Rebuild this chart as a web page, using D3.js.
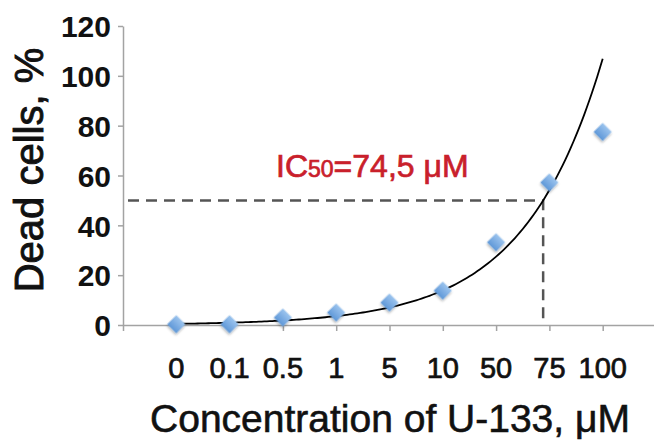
<!DOCTYPE html>
<html>
<head>
<meta charset="utf-8">
<script src="https://cdn.jsdelivr.net/npm/d3@7/dist/d3.min.js"></script>
<style>
  html, body { margin: 0; padding: 0; background: #fff; }
  svg { display: block; }
  text { font-family: "Liberation Sans", Arial, Helvetica, sans-serif; }
</style>
</head>
<body>
<svg id="chart" width="654" height="446"></svg>
<script>
// ---- data ----
const categories = ["0", "0.1", "0.5", "1", "5", "10", "50", "75", "100"];
const deadCells = [0.3, 0.3, 3.0, 5.0, 9.0, 13.8, 33.2, 57.2, 77.5];
const yTicks = [0, 20, 40, 60, 80, 100, 120];
// exponential trendline (Excel style, x = 1..n): y = a * exp(b * x)
const trendA = 0.235;
const trendB = 0.68;
const icLevel = 50;
const icLabelMain = "IC";
const icLabelSub = "50";
const icLabelRest = "=74,5 \u03BCM";
const xTitle = "Concentration of U-133, \u03BCM";
const yTitle = "Dead cells, %";

// ---- layout ----
const svg = d3.select("#chart");
const x0 = 123, yBottom = 325, yTop = 26;
const step = 53.3;

const x = d3.scaleLinear().domain([0, categories.length + 1]).range([x0, x0 + step * (categories.length + 1)]);
const y = d3.scaleLinear().domain([0, 120]).range([yBottom, yTop]);

const axisColor = "#a3a3a3";
const textColor = "#111";

// y axis
const yAxis = svg.append("g")
  .attr("transform", `translate(${x0},0)`)
  .call(d3.axisLeft(y).tickValues(yTicks).tickSize(5).tickPadding(7).tickSizeOuter(0));
yAxis.select(".domain").attr("stroke", axisColor).attr("stroke-width", 1.5);
yAxis.selectAll(".tick line").attr("stroke", axisColor).attr("stroke-width", 1.5);
yAxis.selectAll(".tick text")
  .attr("fill", textColor)
  .style("font-size", "30px")
  .style("font-weight", "bold")
  .attr("dy", "0.36em");

// x axis
const xAxis = svg.append("g")
  .attr("transform", `translate(0,${yBottom})`)
  .call(d3.axisBottom(x).tickValues(d3.range(0, categories.length + 2)).tickSize(6).tickFormat("").tickSizeOuter(0));
xAxis.select(".domain").attr("stroke", axisColor).attr("stroke-width", 1.5);
xAxis.selectAll(".tick line").attr("stroke", axisColor).attr("stroke-width", 1.5);

svg.append("g").selectAll("text")
  .data(categories)
  .join("text")
  .attr("x", (d, i) => x(i + 1))
  .attr("y", 378)
  .attr("text-anchor", "middle")
  .attr("fill", textColor)
  .attr("stroke", textColor)
  .attr("stroke-width", 0.7)
  .style("font-size", "29px")
  .text(d => d);

// axis titles
svg.append("text")
  .attr("x", 390)
  .attr("y", 432)
  .attr("text-anchor", "middle")
  .attr("fill", textColor)
  .attr("stroke", textColor)
  .attr("stroke-width", 0.6)
  .style("font-size", "39px")
  .text(xTitle);

svg.append("text")
  .attr("transform", `translate(43,170) rotate(-90)`)
  .attr("text-anchor", "middle")
  .attr("fill", textColor)
  .attr("stroke", textColor)
  .attr("stroke-width", 0.9)
  .style("font-size", "40px")
  .text(yTitle);

// IC50 dashed guides
const icIndex = Math.log(icLevel / trendA) / trendB;
svg.append("path")
  .attr("d", `M${x0 + 5},${y(icLevel)}H${x(icIndex)}V${yBottom}`)
  .attr("fill", "none")
  .attr("stroke", "#555")
  .attr("stroke-width", 2.5)
  .attr("stroke-dasharray", "11,7");

// trendline
const trendPts = d3.range(1, categories.length + 0.001, 0.05).map(k => [k, trendA * Math.exp(trendB * k)]);
svg.append("path")
  .datum(trendPts)
  .attr("d", d3.line().x(d => x(d[0])).y(d => y(d[1])))
  .attr("fill", "none")
  .attr("stroke", "#000")
  .attr("stroke-width", 1.8);

// markers
const defs = svg.append("defs");
const grad = defs.append("linearGradient").attr("id", "mk").attr("x1", 0).attr("y1", 0).attr("x2", 0).attr("y2", 1);
grad.append("stop").attr("offset", "0%").attr("stop-color", "#9cc4ee");
grad.append("stop").attr("offset", "100%").attr("stop-color", "#5f98d8");
const flt = defs.append("filter").attr("id", "sh").attr("x", "-50%").attr("y", "-50%").attr("width", "200%").attr("height", "200%");
flt.append("feDropShadow").attr("dx", 1).attr("dy", 1.5).attr("stdDeviation", 1.3).attr("flood-color", "#000").attr("flood-opacity", 0.3);

svg.append("g").selectAll("path")
  .data(deadCells)
  .join("path")
  .attr("transform", (d, i) => `translate(${x(i + 1)},${y(d)}) rotate(45)`)
  .attr("d", d3.symbol().type(d3.symbolSquare).size(165))
  .attr("fill", "url(#mk)")
  .attr("filter", "url(#sh)");

// IC50 label
const lab = svg.append("text")
  .attr("x", 276)
  .attr("y", 177)
  .attr("fill", "#c9202b")
  .attr("stroke", "#c9202b")
  .attr("stroke-width", 0.7)
  .style("font-size", "32px");
lab.append("tspan").text(icLabelMain);
lab.append("tspan").style("font-size", "23px").text(icLabelSub);
lab.append("tspan").text(icLabelRest);
</script>
</body>
</html>
